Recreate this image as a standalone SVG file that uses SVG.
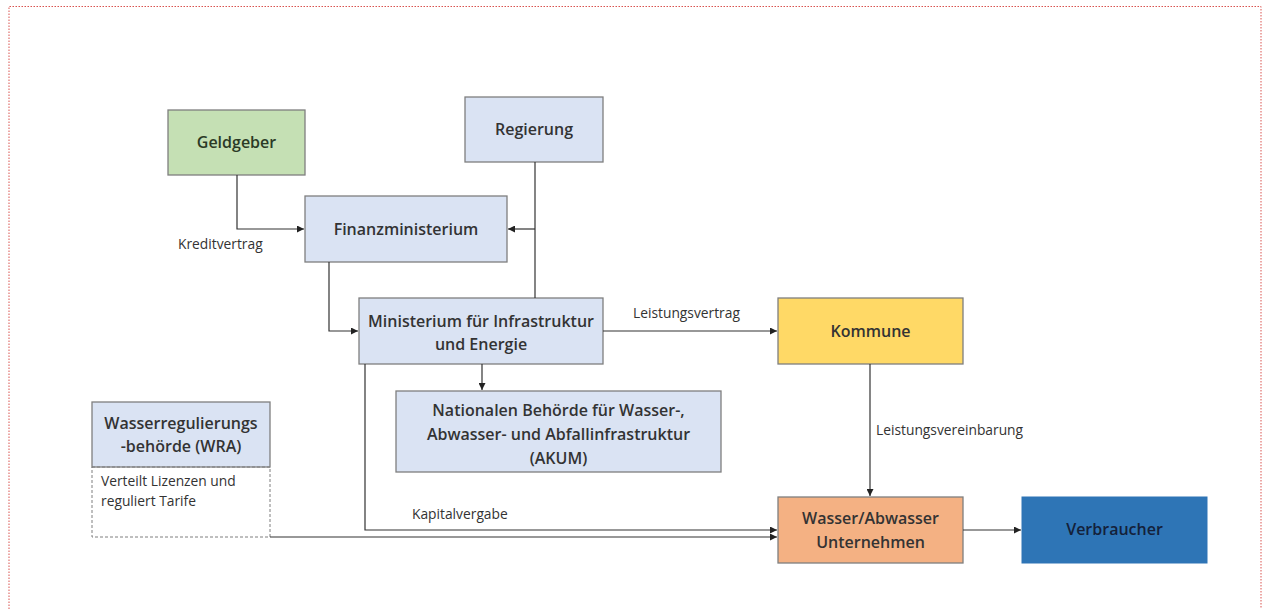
<svg xmlns="http://www.w3.org/2000/svg" width="1262" height="609" viewBox="0 0 1262 609">
<defs>
<marker id="arr" viewBox="0 0 10 10" refX="10" refY="5" markerWidth="7" markerHeight="7" markerUnits="userSpaceOnUse" orient="auto">
<path d="M0,0 L10,5 L0,10 z" fill="#222"/>
</marker>
</defs>
<style>
.box{stroke:#7f7f7f;stroke-width:1.3}
.blue{fill:#dae3f3}
.t{font-family:"Open Sans","Liberation Sans",sans-serif;font-size:16px;font-weight:600;fill:#333;text-anchor:middle}
.l{font-family:"Open Sans","Liberation Sans",sans-serif;font-size:13.8px;fill:#333}
.c{fill:none;stroke:#333;stroke-width:1.2}
</style>
<rect x="0" y="0" width="1262" height="609" fill="#fff"/>
<path d="M9,609 L9,6.5 L1261,6.5 L1261,609" fill="none" stroke="#d9534f" stroke-width="1" stroke-dasharray="1.5,1.5"/>

<g id="geldgeber"><rect class="box" x="168" y="110" width="137" height="65" fill="#c5e0b4"/><text class="t" x="236.5" y="148" style="fill:#2b3a26">Geldgeber</text></g>
<g id="regierung"><rect class="box blue" x="465" y="97" width="138" height="65"/><text class="t" x="534" y="135">Regierung</text></g>
<g id="finanzministerium"><rect class="box blue" x="305" y="196" width="202" height="66"/><text class="t" x="406" y="235">Finanzministerium</text></g>
<g id="ministerium"><rect class="box blue" x="359" y="298" width="244" height="66"/><text class="t" x="481" y="327">Ministerium für Infrastruktur</text><text class="t" x="481" y="350">und Energie</text></g>
<g id="akum"><rect class="box blue" x="396" y="391" width="325" height="81"/><text class="t" x="558.5" y="416">Nationalen Behörde für Wasser-,</text><text class="t" x="558.5" y="440">Abwasser- und Abfallinfrastruktur</text><text class="t" x="558.5" y="464">(AKUM)</text></g>
<g id="kommune"><rect class="box" x="778" y="298" width="185" height="66" fill="#ffd966"/><text class="t" x="870.5" y="337">Kommune</text></g>
<g id="wra"><rect class="box blue" x="92" y="402" width="178" height="65"/><text class="t" x="181" y="429">Wasserregulierungs</text><text class="t" x="181" y="452">-behörde (WRA)</text>
<rect x="92" y="467" width="178" height="70" fill="none" stroke="#7f7f7f" stroke-width="1" stroke-dasharray="3,2"/>
<text class="l" x="101" y="486">Verteilt Lizenzen und</text><text class="l" x="101" y="506">reguliert Tarife</text></g>
<g id="wasser"><rect class="box" x="778" y="497" width="185" height="66" fill="#f4b183"/><text class="t" x="870.5" y="524">Wasser/Abwasser</text><text class="t" x="870.5" y="548">Unternehmen</text></g>
<g id="verbraucher"><rect x="1022" y="497" width="185" height="66" fill="#2e75b6" stroke="#2e75b6"/><text class="t" x="1114.5" y="535" style="fill:#14213a">Verbraucher</text></g>

<g id="connectors">
<path class="c" d="M237,175 V229 H304" marker-end="url(#arr)"/>
<path class="c" d="M535,162 V298"/>
<path class="c" d="M535,229 H508" marker-end="url(#arr)"/>
<path class="c" d="M329,262 V331 H358" marker-end="url(#arr)"/>
<path class="c" d="M482,364 V390" marker-end="url(#arr)"/>
<path class="c" d="M603,331 H777" marker-end="url(#arr)"/>
<path class="c" d="M870,364 V496" marker-end="url(#arr)"/>
<path class="c" d="M365,364 V530 H777" marker-end="url(#arr)"/>
<path class="c" d="M270,537 H777" marker-end="url(#arr)"/>
<path class="c" d="M963,530 H1021" marker-end="url(#arr)"/>
<text class="l" x="178" y="249">Kreditvertrag</text>
<text class="l" x="633" y="318">Leistungsvertrag</text>
<text class="l" x="876" y="435">Leistungsvereinbarung</text>
<text class="l" x="412" y="519">Kapitalvergabe</text>
</g>
</svg>
